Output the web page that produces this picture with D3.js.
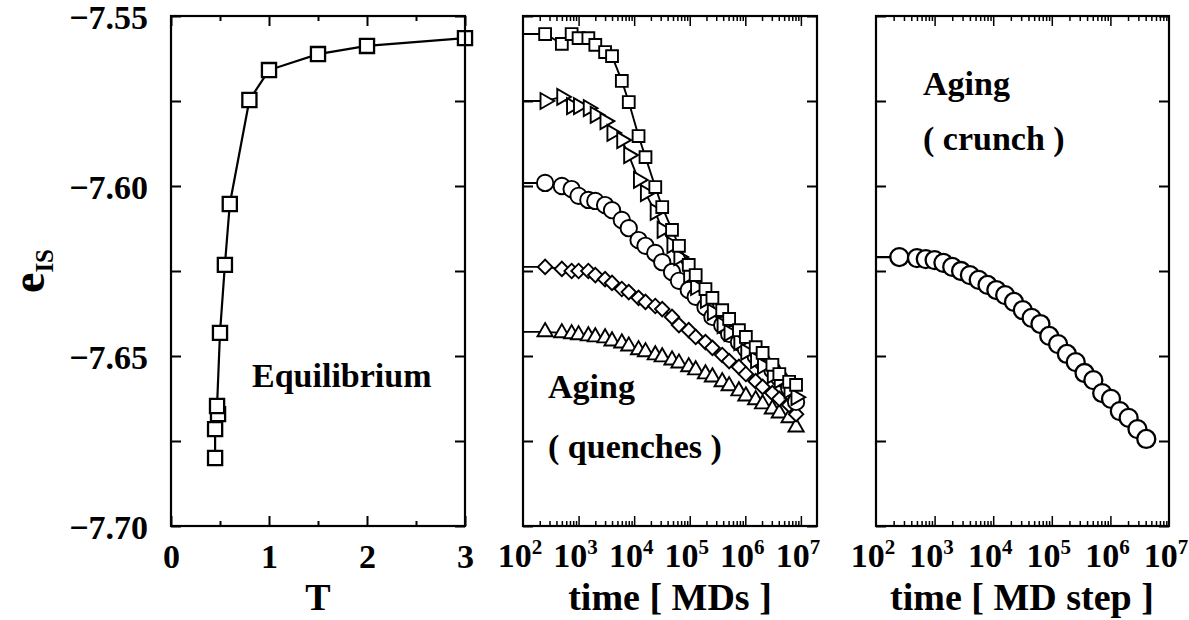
<!DOCTYPE html>
<html><head><meta charset="utf-8">
<script src="https://cdn.jsdelivr.net/npm/d3@7"></script>
<style>body{margin:0;background:#fff}</style>
</head><body><svg id="c" width="1189" height="620"></svg>
<script>
// ---------------- DATA ----------------
// Panel 1: equilibrium e_IS vs T
const T_eq = [0.45, 0.45, 0.48, 0.47, 0.50, 0.55, 0.60, 0.80, 1.0, 1.5, 2.0, 3.0];
const e_eq = [-7.6800, -7.6715, -7.6671, -7.6647, -7.6432, -7.6232, -7.6053, -7.5747, -7.5659, -7.5612, -7.5588, -7.5565];

// Panel 2: aging after quenches (time in MD steps)
const tQuench = [250, 500, 750, 1000, 1500, 2000, 3000, 4000, 6000, 8000, 12000, 16000, 24000, 32000, 48000, 64000,
  96000, 128000, 192000, 256000, 384000, 512000, 768000, 1024000, 1536000, 2048000, 3072000, 4096000, 6144000, 8192000];
const eQuenchSquare = [-7.5553, -7.5582, -7.5553, -7.5565, -7.5565, -7.5585, -7.5606, -7.5618, -7.5691, -7.5753,
  -7.5853, -7.5915, -7.6003, -7.6062, -7.6129, -7.6176, -7.6232, -7.6262, -7.6303, -7.6329,
  -7.6365, -7.6391, -7.6424, -7.6444, -7.6474, -7.6491, -7.6526, -7.6553, -7.6576, -7.6585];
const eQuenchTriRight = [-7.5750, -7.5738, -7.5765, -7.5765, -7.5771, -7.5791, -7.5809, -7.5844, -7.5865, -7.5909,
  -7.5982, -7.6021, -7.6076, -7.6129, -7.6174, -7.6209, -7.6262, -7.6297, -7.6335, -7.6371,
  -7.6409, -7.6432, -7.6459, -7.6488, -7.6512, -7.6529, -7.6556, -7.6571, -7.6600, -7.6621];
const eQuenchCircle = [-7.5991, -7.6000, -7.6009, -7.6029, -7.6041, -7.6044, -7.6056, -7.6071, -7.6100, -7.6124,
  -7.6159, -7.6176, -7.6197, -7.6224, -7.6253, -7.6279, -7.6306, -7.6326, -7.6356, -7.6385,
  -7.6409, -7.6435, -7.6459, -7.6479, -7.6500, -7.6518, -7.6541, -7.6565, -7.6594, -7.6635];
const eQuenchDiamond = [-7.6238, -7.6244, -7.6250, -7.6250, -7.6250, -7.6262, -7.6274, -7.6285, -7.6303, -7.6312,
  -7.6329, -7.6341, -7.6353, -7.6362, -7.6385, -7.6409, -7.6424, -7.6444, -7.6459, -7.6476,
  -7.6497, -7.6515, -7.6532, -7.6553, -7.6574, -7.6591, -7.6609, -7.6626, -7.6644, -7.6671];
const eQuenchTriUp = [-7.6429, -7.6432, -7.6435, -7.6438, -7.6441, -7.6444, -7.6447, -7.6456, -7.6462, -7.6471,
  -7.6482, -7.6488, -7.6497, -7.6503, -7.6512, -7.6521, -7.6532, -7.6541, -7.6553, -7.6562,
  -7.6576, -7.6588, -7.6603, -7.6618, -7.6629, -7.6641, -7.6656, -7.6668, -7.6682, -7.6709];

// Panel 3: aging after crunch
const tCrunch = [250, 500, 707, 1000, 1414, 2000, 2828, 4000, 5657, 8000, 11314, 16000, 22627, 32000, 45255, 64000,
  90510, 128000, 181019, 256000, 362039, 512000, 724077, 1024000, 1448155, 2048000, 2896309, 4096000];
const eCrunch = [-7.6209, -7.6212, -7.6215, -7.6218, -7.6226, -7.6238, -7.6250, -7.6262, -7.6276, -7.6291,
  -7.6306, -7.6321, -7.6341, -7.6365, -7.6388, -7.6406, -7.6441, -7.6465, -7.6494, -7.6518,
  -7.6550, -7.6571, -7.6609, -7.6626, -7.6662, -7.6682, -7.6715, -7.6744];

// Tick values / labels
const yTickValues = [-7.70, -7.675, -7.65, -7.625, -7.60, -7.575, -7.55];
const yLabelValues = [-7.70, -7.65, -7.60, -7.55];
const tTickValues = [0, 0.5, 1, 1.5, 2, 2.5, 3];
const tLabelValues = [0, 1, 2, 3];
const logExponents = [2, 3, 4, 5, 6, 7];

// ---------------- DRAWING ----------------
const FONT = "'Liberation Serif','Times New Roman',Times,serif";
const svg = d3.select("#c").attr("font-family", FONT);
const TOP = 16, BOT = 526;
const y = d3.scaleLinear().domain([-7.70, -7.55]).range([BOT, TOP]);

const x1 = d3.scaleLinear().domain([0, 3]).range([171, 465]);
const x2 = d3.scaleLog().domain([100, 1.95e7]).range([523, 817]);
const x3 = d3.scaleLog().domain([100, 1e7]).range([876, 1169]);

function styleAxis(g, w) {
  g.select(".domain").remove();
  g.selectAll(".tick line").attr("stroke", "#000").attr("stroke-width", w);
  g.selectAll(".tick text").attr("font-family", FONT).attr("font-weight", "bold").attr("font-size", 34).attr("fill", "#000");
}

function yAxes(xs, withLabels) {
  const [a, b] = xs.range();
  const fmt = d3.format(".2f");
  const isLab = d => yLabelValues.some(v => Math.abs(v - d) < 1e-9);
  const gl = svg.append("g").attr("transform", `translate(${a},0)`)
    .call(d3.axisLeft(y).tickValues(yTickValues).tickSize(-10).tickPadding(23)
      .tickFormat(d => withLabels && isLab(d) ? fmt(d) : ""));
  styleAxis(gl, 2);
  gl.selectAll(".tick text").attr("dy", "0.36em");
  const gr = svg.append("g").attr("transform", `translate(${b},0)`)
    .call(d3.axisRight(y).tickValues(yTickValues).tickSize(-10).tickFormat(""));
  styleAxis(gr, 2);
}

function frame(xs) {
  const [a, b] = xs.range();
  svg.append("rect").attr("x", a).attr("y", TOP).attr("width", b - a).attr("height", BOT - TOP)
    .attr("fill", "none").attr("stroke", "#000").attr("stroke-width", 2.2);
}

// Panel 1 axes
{
  const isLab = d => tLabelValues.includes(d);
  const maj = tTickValues.filter(isLab), min = tTickValues.filter(d => !isLab(d));
  const gb = svg.append("g").attr("transform", `translate(0,${BOT})`)
    .call(d3.axisBottom(x1).tickValues(maj).tickSize(-10).tickPadding(18).tickFormat(d3.format("d")));
  styleAxis(gb, 2);
  const gb2 = svg.append("g").attr("transform", `translate(0,${BOT})`)
    .call(d3.axisBottom(x1).tickValues(min).tickSize(-5).tickFormat(""));
  styleAxis(gb2, 2);
  const gt = svg.append("g").attr("transform", `translate(0,${TOP})`)
    .call(d3.axisTop(x1).tickValues(maj).tickSize(-10).tickFormat(""));
  styleAxis(gt, 2);
  const gt2 = svg.append("g").attr("transform", `translate(0,${TOP})`)
    .call(d3.axisTop(x1).tickValues(min).tickSize(-5).tickFormat(""));
  styleAxis(gt2, 2);
}

function logAxes(xs) {
  const [d0, d1] = xs.domain();
  const majors = logExponents.map(k => Math.pow(10, k)).filter(v => v >= d0 && v <= d1 * 1.0001);
  const minors = [];
  logExponents.forEach(k => { for (let m = 2; m <= 9; m++) { const v = m * Math.pow(10, k); if (v > d0 && v < d1) minors.push(v); } });
  [[BOT, d3.axisBottom], [TOP, d3.axisTop]].forEach(([yy, ax]) => {
    const g1 = svg.append("g").attr("transform", `translate(0,${yy})`)
      .call(ax(xs).tickValues(majors.filter(v => v > d0 && v < d1)).tickSize(-10).tickFormat(""));
    styleAxis(g1, 1.5);
    const g2 = svg.append("g").attr("transform", `translate(0,${yy})`)
      .call(ax(xs).tickValues(minors).tickSize(-5).tickFormat(""));
    styleAxis(g2, 1.5);
  });
  logExponents.forEach(k => {
    const v = Math.pow(10, k);
    if (v < d0 || v > d1 * 1.0001) return;
    const t = svg.append("text").attr("x", xs(v) - 3).attr("y", 567).attr("text-anchor", "middle")
      .attr("font-weight", "bold").attr("font-size", 34);
    t.append("tspan").text("10");
    t.append("tspan").attr("dy", -13).attr("font-size", 21).text(String(k));
  });
}

yAxes(x1, true); yAxes(x2, false); yAxes(x3, false);
logAxes(x2); logAxes(x3);

// clip paths for panels
function clip(id, xs) {
  const [a, b] = xs.range();
  svg.append("clipPath").attr("id", id).append("rect").attr("x", a).attr("y", TOP).attr("width", b - a).attr("height", BOT - TOP);
}
clip("c2", x2); clip("c3", x3);

// Panel 1 data
{
  const pts = T_eq.map((t, i) => [x1(t), y(e_eq[i])]);
  svg.append("path").attr("d", d3.line()(pts)).attr("fill", "none").attr("stroke", "#000").attr("stroke-width", 2.2);
  svg.append("g").selectAll("path").data(pts).join("path")
    .attr("transform", d => `translate(${d[0]},${d[1]})`)
    .attr("d", d3.symbol().type(d3.symbolSquare).size(200)())
    .attr("fill", "#fff").attr("stroke", "#000").attr("stroke-width", 2.3);
}

// Generic series drawer with line starting at the left edge
function series(xs, ts, es, symbolPath, rot, clipId, lw) {
  const g = svg.append("g").attr("clip-path", `url(#${clipId})`);
  const linePts = [[xs.range()[0], y(es[0])]].concat(ts.map((t, i) => [xs(t), y(es[i])]));
  g.append("path").attr("d", d3.line()(linePts)).attr("fill", "none").attr("stroke", "#000").attr("stroke-width", lw);
  g.selectAll("path.m").data(ts.map((t, i) => [xs(t), y(es[i])])).join("path").attr("class", "m")
    .attr("transform", d => `translate(${d[0]},${d[1]}) rotate(${rot})`)
    .attr("d", symbolPath)
    .attr("fill", "#fff").attr("stroke", "#000").attr("stroke-width", lw);
}

const symSq = d3.symbol().type(d3.symbolSquare).size(140)();
const symCirc = d3.symbol().type(d3.symbolCircle).size(Math.PI * 8.2 * 8.2)();
const symTriR = d3.symbol().type(d3.symbolTriangle).size(110)();
const symTriU = d3.symbol().type(d3.symbolTriangle).size(100)();
const symDia = d3.symbol().type(d3.symbolSquare).size(105)();

series(x2, tQuench, eQuenchTriUp, symTriU, 0, "c2", 1.9);
series(x2, tQuench, eQuenchDiamond, symDia, 45, "c2", 1.9);
series(x2, tQuench, eQuenchCircle, symCirc, 0, "c2", 1.9);
series(x2, tQuench, eQuenchTriRight, symTriR, 90, "c2", 1.9);
series(x2, tQuench, eQuenchSquare, symSq, 0, "c2", 1.9);

const symCirc3 = d3.symbol().type(d3.symbolCircle).size(Math.PI * 9 * 9)();
series(x3, tCrunch, eCrunch, symCirc3, 0, "c3", 2.3);

frame(x1); frame(x2); frame(x3);

// Texts
function txt(x, yy, s, size, anchor) {
  return svg.append("text").attr("x", x).attr("y", yy).attr("font-weight", "bold")
    .attr("font-size", size).attr("text-anchor", anchor || "start").attr("fill", "#000").text(s);
}
txt(252, 387, "Equilibrium", 34);
txt(548, 398, "Aging", 34);
txt(548, 458, "( quenches )", 34);
txt(923, 95, "Aging", 34);
txt(923, 150, "( crunch )", 34);

txt(318, 610, "T", 38, "middle");
txt(670, 610, "time [ MDs ]", 38, "middle");
txt(1022, 610, "time [ MD step ]", 38, "middle");

// y title
{
  const t = svg.append("text").attr("transform", "translate(44,271) rotate(-90)")
    .attr("text-anchor", "middle").attr("font-weight", "bold").attr("fill", "#000");
  t.append("tspan").attr("font-size", 46).text("e");
  t.append("tspan").attr("font-size", 25).attr("dy", 9).text("IS");
}
</script></body></html>
